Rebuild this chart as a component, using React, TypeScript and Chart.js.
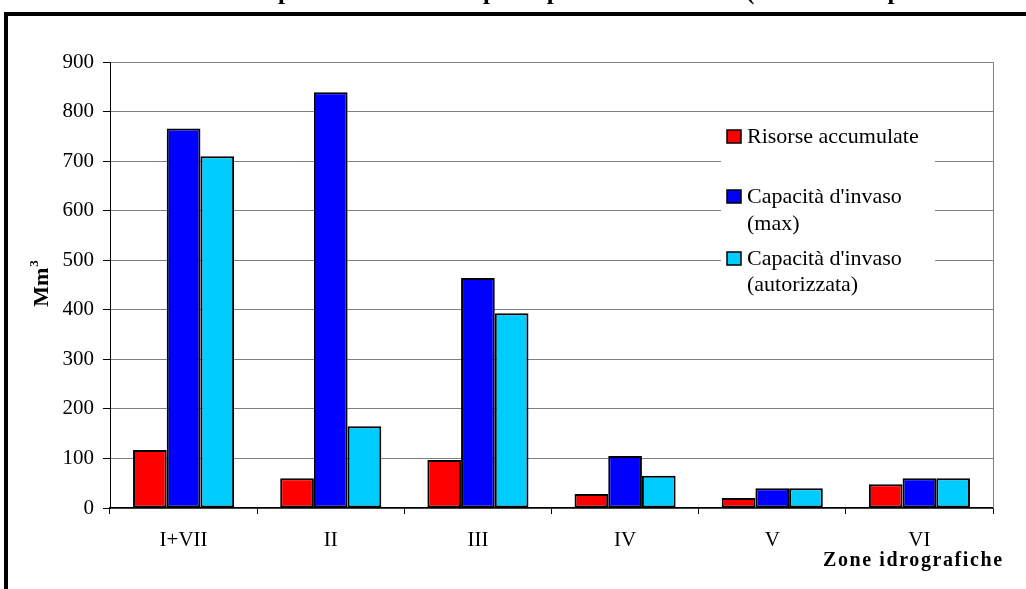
import React, { useEffect, useRef } from "react";
import { Chart, registerables } from "chart.js";

Chart.register(...registerables);

const categories = ["I+VII", "II", "III", "IV", "V", "VI"];
const risorseAccumulate = [117, 60, 97, 28, 20, 48];
const capacitaMax = [766, 839, 464, 105, 40, 60];
const capacitaAutorizzata = [710, 165, 393, 65, 40, 60];
const seriesLabels = [
  ["Risorse accumulate"],
  ["Capacità d'invaso", "(max)"],
  ["Capacità d'invaso", "(autorizzata)"],
];
const seriesColors = ["#FF0000", "#0000FF", "#00CCFF"];
const yTicks = [0, 100, 200, 300, 400, 500, 600, 700, 800, 900];
const titleText = "Risorse accumulate e capacità d'invaso dei principali serbatoi sardi (dati in Mm³ per le zone idrografiche)";
const yTitle = "Mm";
const yTitleSup = "3";
const xTitle = "Zone idrografiche";
const SERIF = "'Liberation Serif', 'Times New Roman', serif";

const decorPlugin = {
  id: "decor",
  beforeDraw(chart: any) {
    const ctx = chart.ctx;
    ctx.save();
    ctx.fillStyle = "#fff";
    ctx.fillRect(0, 0, chart.width, chart.height);
    ctx.restore();
  },
  afterDatasetsDraw(chart: any) {
    const ctx = chart.ctx;
    const ca = chart.chartArea;
    ctx.save();
    ctx.strokeStyle = "#808080";
    ctx.lineWidth = 1;
    ctx.beginPath();
    ctx.moveTo(ca.right + 0.5, ca.top);
    ctx.lineTo(ca.right + 0.5, ca.bottom);
    ctx.stroke();
    // legend
    const lx = 721, ly = 118, lw = 214, lh = 187;
    ctx.fillStyle = "#fff";
    ctx.fillRect(lx, ly, lw, lh);
    const baselines = [[143], [203, 230], [265, 291]];
    ctx.font = `22px ${SERIF}`;
    ctx.textBaseline = "alphabetic";
    ctx.textAlign = "left";
    seriesLabels.forEach((lines, i) => {
      const b0 = baselines[i][0];
      ctx.fillStyle = chart.data.datasets[i].backgroundColor;
      ctx.fillRect(727, b0 - 13, 14, 13);
      ctx.strokeStyle = "#000";
      ctx.lineWidth = 1.5;
      ctx.strokeRect(727, b0 - 13, 14, 13);
      ctx.fillStyle = "#000";
      lines.forEach((t, j) => ctx.fillText(t, 747, baselines[i][j]));
    });
    ctx.restore();
  },
  afterDraw(chart: any) {
    const ctx = chart.ctx;
    ctx.save();
    ctx.fillStyle = "#000";
    ctx.fillRect(4, 12, 4, chart.height);
    ctx.fillRect(4, 12, chart.width, 4);
    // clipped title (only its descenders fall inside the picture)
    ctx.font = `bold 25px ${SERIF}`;
    ctx.textAlign = "left";
    ctx.textBaseline = "alphabetic";
    const prefix = titleText.slice(0, titleText.indexOf("capacità") + 2);
    const tx = 278 - ctx.measureText(prefix).width;
    ctx.fillText(titleText, tx, -1);
    // y title
    ctx.save();
    ctx.translate(40, 284);
    ctx.rotate(-Math.PI / 2);
    ctx.font = `bold 22px ${SERIF}`;
    const w = ctx.measureText(yTitle).width;
    ctx.font = `bold 13px ${SERIF}`;
    const ws = ctx.measureText(yTitleSup).width;
    const x0 = -(w + ws) / 2;
    ctx.font = `bold 22px ${SERIF}`;
    ctx.fillText(yTitle, x0, 8);
    ctx.font = `bold 13px ${SERIF}`;
    ctx.fillText(yTitleSup, x0 + w + 1, -2);
    ctx.restore();
    // x title
    ctx.font = `bold 20px ${SERIF}`;
    (ctx as any).letterSpacing = "1.6px";
    ctx.textAlign = "left";
    ctx.fillText(xTitle, 823, 566);
    ctx.restore();
  },
};

export default function App() {
  const ref = useRef<HTMLCanvasElement | null>(null);
  useEffect(() => {
    if (!ref.current) return;
    const chart = new Chart(ref.current, {
      type: "bar",
      data: {
        labels: categories,
        datasets: [risorseAccumulate, capacitaMax, capacitaAutorizzata].map((d, i) => ({
          label: seriesLabels[i].join(" "),
          data: d,
          backgroundColor: seriesColors[i],
          borderColor: "#000",
          borderWidth: 2,
          borderSkipped: false,
          categoryPercentage: 0.687,
          barPercentage: 1,
        })),
      },
      options: {
        responsive: false,
        animation: false,
        layout: { padding: { top: 62, right: 33, bottom: 0, left: 0 } },
        plugins: { legend: { display: false }, title: { display: false }, tooltip: { enabled: false } },
        scales: {
          x: {
            afterFit: (s: any) => { s.height = 81; },
            grid: { drawOnChartArea: false, drawTicks: true, tickLength: 6, tickColor: "#000", offset: true },
            border: { color: "#000", width: 1.5 },
            ticks: { color: "#000", font: { family: SERIF, size: 21 }, padding: 14, maxRotation: 0 },
          },
          y: {
            min: 0,
            max: 900,
            afterFit: (s: any) => { s.width = 110; },
            afterBuildTicks: (s: any) => { s.ticks = yTicks.map((v) => ({ value: v })); },
            grid: { color: "#808080", lineWidth: 1, tickLength: 7, tickColor: "#000" },
            border: { color: "#000", width: 1 },
            ticks: { color: "#000", font: { family: SERIF, size: 21 }, padding: 9 },
          },
        },
      },
      plugins: [decorPlugin],
    });
    return () => chart.destroy();
  }, []);
  return (
    <div style={{ position: "absolute", left: 0, top: 0, width: 1026, height: 589, overflow: "hidden" }}>
      <canvas ref={ref} width={1026} height={589} style={{ display: "block" }} />
    </div>
  );
}
